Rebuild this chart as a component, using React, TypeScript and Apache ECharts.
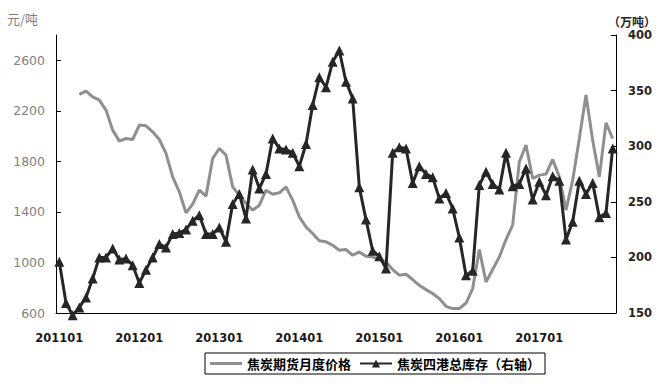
import React, { useEffect, useRef } from "react";
import * as echarts from "echarts";

const months: string[] = [];
for (let y = 2011; y <= 2017; y++) {
  for (let m = 1; m <= 12; m++) months.push(`${y}${m < 10 ? "0" + m : m}`);
}

const leftTicks = [600, 1000, 1400, 1800, 2200, 2600];

// 焦炭期货月度价格 (元/吨), starts 201104
const priceSeries: (number | null)[] = [
  null, null, null, 2330, 2356, 2311, 2285, 2206, 2047, 1960, 1981, 1973,
  2087, 2081, 2034, 1973, 1863, 1677, 1559, 1392, 1461, 1572, 1525, 1823,
  1902, 1849, 1598, 1532, 1467, 1414, 1453, 1572, 1540, 1551, 1598, 1493,
  1361, 1281, 1229, 1171, 1163, 1136, 1097, 1102, 1057, 1083, 1049, 1044,
  1023, 1004, 944, 899, 907, 865, 819, 785, 754, 714, 653, 635,
  635, 679, 793, 1102, 846, 944, 1044, 1181, 1295, 1796, 1929, 1665,
  1691, 1699, 1815, 1677, 1414, 1651, 1981, 2325, 1968, 1677, 2105, 1981,
];

// 焦炭四港总库存 (万吨, 右轴)
const stockSeries: number[] = [
  196, 159, 148, 155, 164, 181, 200, 200, 208, 198, 199, 193,
  177, 189, 200, 212, 209, 221, 222, 225, 233, 238, 221, 221,
  227, 214, 248, 257, 235, 279, 262, 275, 307, 298, 297, 294,
  282, 302, 337, 362, 353, 376, 386, 358, 343, 263, 234, 206,
  201, 190, 294, 299, 298, 267, 282, 275, 272, 253, 258, 244,
  218, 184, 188, 265, 277, 266, 261, 294, 264, 266, 280, 252,
  268, 256, 273, 269, 216, 232, 269, 257, 267, 236, 240, 298,
];

export default function App() {
  const ref = useRef<HTMLDivElement>(null);
  useEffect(() => {
    if (!ref.current) return;
    const chart = echarts.init(ref.current, null, { renderer: "svg" });
    chart.setOption({
      animation: false,
      backgroundColor: "#ffffff",
      grid: { left: 56, right: 47, top: 35, bottom: 71 },
      legend: {
        left: 205,
        top: 353,
        borderColor: "#000",
        borderWidth: 1,
        padding: [4, 5, 4, 5],
        itemGap: 8,
        itemWidth: 32,
        itemHeight: 10,
        symbolKeepAspect: true,
        textStyle: {
          fontFamily: "Noto Sans CJK SC",
          fontWeight: "bold",
          fontSize: 13,
          color: "#000",
        },
        data: [
          { name: "焦炭期货月度价格", icon: "path://M0,0 L32,0 L32,3 L0,3 Z" },
          "焦炭四港总库存（右轴）",
        ],
      },
      xAxis: {
        type: "category",
        data: months,
        boundaryGap: true,
        axisLine: { lineStyle: { color: "#000", width: 1 } },
        axisTick: {
          inside: true,
          length: 5,
          interval: (i: number) => i % 12 === 0,
          lineStyle: { color: "#000" },
        },
        axisLabel: {
          interval: (i: number) => i % 12 === 0,
          margin: 19,
          fontFamily: "DejaVu Sans",
          fontWeight: "bold",
          fontSize: 11.5,
          color: "#1a1a1a",
        },
        splitLine: { show: false },
      },
      yAxis: [
        {
          type: "value",
          min: 600,
          max: 2800,
          name: "元/吨",
          nameLocation: "end",
          nameGap: 10,
          nameTextStyle: {
            fontFamily: "Noto Sans CJK SC",
            fontSize: 13,
            color: "#7f7f7f",
            align: "right",
            padding: [0, 18, 0, 0],
          },
          axisLine: { show: true, lineStyle: { color: "#000", width: 1 } },
          axisTick: {
            show: true,
            inside: true,
            length: 5,
            customValues: leftTicks,
            lineStyle: { color: "#000" },
          },
          axisLabel: {
            customValues: leftTicks,
            formatter: (v: number) => String(v),
            margin: 11,
            fontFamily: "DejaVu Sans",
            fontSize: 12.5,
            color: "#7f7f7f",
          },
          splitLine: { show: false },
        },
        {
          type: "value",
          min: 150,
          max: 400,
          interval: 50,
          position: "right",
          name: "（万吨）",
          nameLocation: "end",
          nameGap: 8,
          nameTextStyle: {
            fontFamily: "Noto Sans CJK SC",
            fontWeight: "bold",
            fontSize: 12,
            color: "#262626",
            align: "left",
            padding: [0, 0, 0, -8],
          },
          axisLine: { show: true, lineStyle: { color: "#000", width: 1 } },
          axisTick: { show: true, inside: true, length: 5, lineStyle: { color: "#000" } },
          axisLabel: {
            margin: 12,
            fontFamily: "DejaVu Sans",
            fontWeight: "bold",
            fontSize: 11.5,
            color: "#262626",
          },
          splitLine: { show: false },
        },
      ],
      series: [
        {
          name: "焦炭期货月度价格",
          type: "line",
          yAxisIndex: 0,
          data: priceSeries,
          symbol: "none",
          connectNulls: false,
          lineStyle: { color: "#8f8f8f", width: 3 },
          itemStyle: { color: "#8f8f8f" },
        },
        {
          name: "焦炭四港总库存（右轴）",
          type: "line",
          yAxisIndex: 1,
          data: stockSeries,
          symbol: "triangle",
          symbolSize: 10,
          showAllSymbol: true,
          clip: false,
          lineStyle: { color: "#262626", width: 3 },
          itemStyle: { color: "#262626" },
        },
      ],
    });
    return () => chart.dispose();
  }, []);
  return (
    <div
      ref={ref}
      style={{ position: "fixed", left: 0, top: 0, width: 663, height: 384 }}
    />
  );
}
